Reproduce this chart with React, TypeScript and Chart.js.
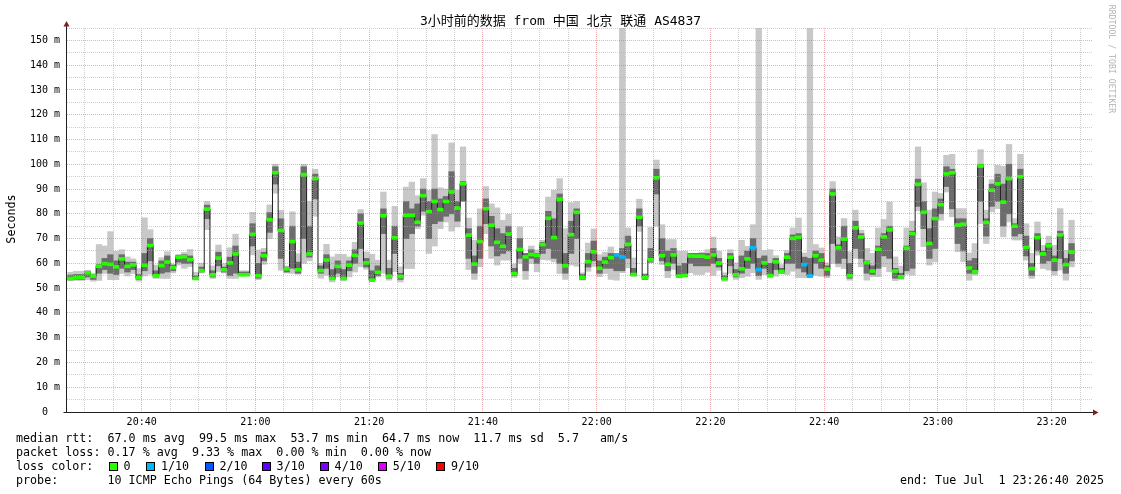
import React, { useEffect, useRef } from 'react';
import { Chart, registerables } from 'chart.js';

Chart.register(...registerables);

// ---------------- data ----------------
// one sample per minute, first sample covers 20:27 - 20:28
const FIRST_BAR_MINUTE = 27; // minutes after 20:00
const AXIS_MIN = 26.87; // 20:26:52
const AXIS_MAX = 207.27; // 23:27:16

const median = [
  53.9, 54.2, 54.3, 56.2, 54.8, 58.8, 59.9, 59.6, 58.6, 61.8,
  58.8, 59.4, 54.2, 59.2, 67.2, 55.0, 59.1, 60.5, 58.3, 62.5,
  62.7, 61.5, 53.9, 57.1, 81.9, 55.4, 62.1, 57.4, 60.2, 63.8,
  55.4, 55.4, 71.7, 55.0, 63.1, 77.6, 96.6, 73.3, 57.8, 68.8,
  57.4, 95.8, 63.8, 94.2, 57.1, 61.3, 53.9, 58.8, 53.9, 59.3,
  63.2, 76.3, 60.2, 53.2, 56.4, 79.2, 54.8, 70.3, 54.7, 79.4,
  79.4, 76.6, 87.3, 80.9, 85.0, 81.7, 85.0, 88.8, 82.3, 92.1,
  71.4, 59.7, 68.8, 82.1, 75.4, 68.5, 66.9, 71.8, 55.9, 65.6,
  62.6, 63.6, 63.2, 67.6, 78.2, 70.4, 85.9, 59.0, 71.6, 80.6,
  54.2, 60.7, 64.6, 58.0, 60.5, 62.3, 63.4, 62.6, 67.7, 55.5,
  78.6, 54.2, 61.4, 94.5, 63.1, 59.6, 63.4, 54.8, 55.1, 63.0,
  62.9, 62.9, 62.5, 63.4, 60.1, 53.8, 62.5, 55.4, 57.8, 61.8,
  66.3, 57.5, 60.2, 55.1, 60.6, 56.7, 62.5, 70.1, 70.5, 59.5,
  54.9, 63.1, 61.3, 57.7, 88.0, 66.3, 69.8, 55.0, 74.3, 70.7,
  60.3, 56.9, 65.7, 70.7, 73.5, 56.9, 54.6, 66.1, 72.0, 91.9,
  80.6, 68.0, 78.1, 83.7, 96.1, 96.6, 75.5, 75.8, 58.1, 56.6,
  99.3, 76.5, 89.5, 92.1, 84.7, 94.2, 75.0, 95.0, 66.4, 57.9,
  70.4, 63.8, 67.1, 61.3, 71.5, 59.5, 64.5,
];

// outer smoke (fastest / slowest ping)
const smokeLo = [
  53.1, 53.1, 53.1, 53.4, 52.8, 53.1, 55.9, 53.4, 53.4, 55.9,
  54.9, 55.9, 52.8, 54.9, 55.6, 53.9, 53.9, 53.9, 56.1, 59.3,
  58.0, 58.7, 53.4, 56.1, 73.6, 53.9, 56.7, 56.1, 53.9, 53.9,
  55.3, 55.3, 63.4, 53.4, 59.6, 70.0, 88.3, 57.2, 56.1, 55.9,
  55.6, 60.0, 61.0, 79.0, 54.0, 55.2, 52.5, 54.5, 52.9, 54.5,
  56.5, 58.6, 57.6, 52.9, 54.5, 56.0, 53.2, 56.6, 52.5, 57.9,
  57.9, 74.0, 79.4, 64.0, 67.0, 74.0, 76.7, 73.0, 74.7, 85.5,
  57.5, 53.5, 58.6, 72.0, 62.0, 59.3, 61.3, 61.3, 54.3, 60.0,
  53.5, 60.0, 56.6, 61.5, 61.3, 60.6, 55.9, 53.5, 59.3, 58.8,
  53.2, 56.8, 58.8, 54.6, 55.9, 53.5, 53.2, 56.2, 58.2, 54.8,
  72.9, 53.5, 60.2, 75.0, 59.5, 54.2, 57.5, 54.2, 54.8, 56.2,
  55.5, 55.5, 56.4, 55.1, 57.2, 52.8, 55.9, 53.5, 54.2, 54.8,
  56.2, 53.5, 55.5, 54.2, 54.8, 56.2, 55.5, 56.8, 54.2, 54.2,
  54.2, 55.1, 54.8, 54.2, 60.0, 58.6, 57.9, 53.2, 62.0, 58.6,
  53.2, 54.6, 54.6, 58.6, 56.6, 53.0, 53.5, 55.6, 55.2, 81.2,
  66.7, 59.3, 60.6, 77.4, 88.8, 78.8, 64.7, 60.6, 53.2, 55.2,
  76.0, 68.0, 80.8, 82.1, 70.7, 76.7, 69.4, 69.4, 61.3, 53.9,
  63.3, 57.9, 57.3, 55.2, 57.3, 53.2, 58.6,
];
const smokeHi = [
  56.4, 56.8, 56.8, 57.2, 55.9, 67.6, 67.0, 72.8, 64.9, 65.5,
  62.6, 61.8, 57.9, 78.4, 73.6, 59.3, 62.3, 64.7, 59.7, 63.6,
  64.4, 65.6, 56.4, 60.1, 85.0, 59.0, 67.4, 59.9, 66.3, 71.8,
  57.0, 57.0, 80.6, 65.4, 66.1, 83.6, 100.0, 81.4, 58.9, 80.8,
  63.9, 100.0, 85.0, 98.0, 60.0, 67.7, 62.6, 63.7, 63.6, 62.6,
  68.5, 81.7, 64.6, 63.7, 61.3, 88.8, 61.3, 83.0, 58.6, 90.8,
  92.8, 87.3, 94.2, 89.5, 112.0, 90.5, 90.0, 108.6, 89.5, 107.0,
  78.3, 69.3, 82.0, 91.0, 84.0, 82.4, 77.4, 79.8, 59.7, 74.7,
  64.0, 67.0, 65.4, 69.3, 86.8, 89.5, 94.2, 74.0, 84.5, 85.0,
  56.2, 68.2, 73.9, 63.5, 64.5, 66.6, 64.0, 156.0, 74.3, 62.2,
  85.9, 55.9, 74.5, 101.7, 75.6, 69.6, 69.6, 64.9, 64.9, 64.0,
  64.0, 64.5, 65.5, 70.6, 64.9, 56.2, 65.5, 60.2, 69.3, 66.9,
  75.6, 156.0, 65.2, 65.5, 63.1, 59.5, 65.2, 74.3, 78.3, 64.2,
  156.0, 67.6, 66.2, 60.2, 93.0, 70.7, 78.1, 64.7, 81.5, 73.4,
  66.0, 64.0, 74.3, 77.7, 84.8, 62.6, 58.9, 74.3, 77.0, 107.0,
  92.5, 81.5, 88.8, 88.2, 103.6, 104.0, 82.1, 82.1, 64.2, 68.0,
  105.9, 81.5, 93.8, 99.6, 99.2, 108.0, 78.1, 104.0, 76.0, 64.0,
  76.7, 67.3, 71.0, 67.3, 82.1, 65.3, 77.4,
];
// dense core of the smoke around the median
const coreLo = [
  53.3, 53.5, 53.5, 54.5, 53.5, 56.0, 57.5, 56.0, 55.5, 58.0,
  56.5, 57.5, 53.5, 57.0, 61.0, 54.5, 56.0, 56.5, 57.0, 60.5,
  60.0, 60.0, 53.5, 56.5, 78.0, 54.5, 59.0, 56.5, 55.0, 56.0,
  55.3, 55.3, 67.0, 54.0, 61.0, 72.5, 92.0, 62.0, 56.5, 58.0,
  56.0, 70.0, 62.5, 86.0, 56.0, 58.0, 53.5, 56.0, 53.5, 57.0,
  60.0, 66.0, 58.5, 53.5, 55.0, 72.0, 54.0, 64.0, 53.5, 70.0,
  72.0, 75.0, 81.0, 70.0, 76.0, 77.0, 79.0, 80.0, 77.0, 85.0,
  62.0, 56.0, 62.0, 76.0, 67.0, 63.0, 64.0, 65.0, 55.0, 62.0,
  57.0, 62.0, 60.0, 64.0, 66.0, 62.0, 60.0, 56.0, 64.0, 70.0,
  53.5, 58.5, 61.0, 56.0, 58.0, 58.0, 57.0, 57.0, 62.0, 55.0,
  75.0, 53.5, 60.5, 88.0, 61.0, 57.0, 60.0, 55.5, 55.5, 60.0,
  59.0, 59.0, 59.0, 60.0, 58.5, 53.5, 59.0, 54.5, 56.0, 58.0,
  60.0, 55.0, 58.0, 55.0, 57.5, 56.0, 60.0, 60.0, 58.0, 56.5,
  55.0, 60.0, 58.0, 55.0, 68.0, 60.0, 62.0, 54.0, 66.0, 62.0,
  56.0, 55.5, 58.0, 63.0, 62.0, 54.0, 54.0, 57.0, 58.0, 83.0,
  74.0, 62.0, 66.0, 80.0, 91.0, 82.0, 68.0, 65.0, 56.0, 56.0,
  85.0, 71.0, 83.0, 85.0, 75.0, 80.0, 71.0, 72.0, 63.0, 55.0,
  65.0, 60.0, 61.0, 57.0, 62.0, 56.0, 61.0,
];
const coreHi = [
  55.3, 55.5, 55.5, 56.8, 55.3, 59.5, 62.0, 63.5, 61.0, 63.5,
  60.5, 60.5, 55.5, 64.0, 70.0, 57.0, 61.0, 63.0, 59.3, 63.2,
  63.5, 63.0, 55.0, 58.5, 83.5, 57.0, 64.5, 58.5, 62.5, 67.0,
  56.5, 56.5, 76.0, 60.0, 64.5, 80.5, 99.0, 78.0, 58.5, 75.0,
  60.5, 99.0, 75.0, 96.0, 59.0, 63.5, 57.5, 61.0, 57.5, 61.0,
  65.5, 80.0, 62.0, 57.0, 59.0, 82.0, 58.0, 75.0, 56.0, 85.0,
  82.0, 84.0, 90.0, 85.0, 90.0, 86.0, 87.0, 97.0, 85.0, 93.0,
  74.0, 63.0, 75.0, 86.0, 79.0, 74.0, 72.0, 75.0, 58.0, 70.0,
  64.0, 65.5, 64.0, 68.5, 81.0, 78.0, 88.0, 64.0, 77.0, 82.0,
  55.5, 64.0, 69.0, 61.0, 62.5, 64.0, 64.0, 66.0, 71.0, 58.0,
  82.0, 55.5, 66.0, 98.0, 70.0, 65.0, 66.0, 59.0, 60.0, 64.0,
  64.0, 64.0, 64.0, 66.0, 62.0, 55.0, 64.0, 57.5, 63.0, 65.0,
  70.0, 62.0, 63.0, 60.0, 62.0, 58.0, 64.0, 71.5, 72.0, 62.5,
  62.0, 65.0, 64.0, 59.0, 90.0, 67.5, 75.0, 60.0, 77.0, 72.0,
  61.0, 59.0, 67.0, 72.0, 75.0, 58.0, 56.0, 67.0, 73.0, 94.0,
  85.0, 74.0, 82.0, 86.0, 99.0, 98.0, 78.0, 78.0, 61.0, 62.0,
  100.0, 78.0, 92.0, 96.0, 92.0, 100.0, 76.0, 98.0, 71.0, 60.0,
  72.0, 65.0, 68.0, 63.0, 73.0, 62.0, 68.0,
];

// [sample index, lost pings out of 10]
const lossEvents: [number, number][] = [
  [96, 1], [97, 1], [120, 1], [121, 1], [129, 1], [130, 1],
];

const lossLegendLabels = ['0', '1/10', '2/10', '3/10', '4/10', '5/10', '9/10'];
const lossLegendLimits = [0, 1, 2, 3, 4, 5, 9];
const lossLegendColors = ['#26ff00', '#00b8ff', '#0059ff', '#5e00ff', '#7e00ff', '#dd00ff', '#ff0000'];

const yTickValues = [0, 10, 20, 30, 40, 50, 60, 70, 80, 90, 100, 110, 120, 130, 140, 150];
const yTickLabels = ['0  ', '10 m', '20 m', '30 m', '40 m', '50 m', '60 m', '70 m', '80 m', '90 m',
  '100 m', '110 m', '120 m', '130 m', '140 m', '150 m'];
const xMajorMinutes = [40, 60, 80, 100, 120, 140, 160, 180, 200];
const xTickLabels = ['20:40', '21:00', '21:20', '21:40', '22:00', '22:20', '22:40', '23:00', '23:20'];

const titleText = '3小时前的数据 from 中国 北京 联通 AS4837';
const statLines = [
  'median rtt:  67.0 ms avg  99.5 ms max  53.7 ms min  64.7 ms now  11.7 ms sd  5.7   am/s',
  'packet loss: 0.17 % avg  9.33 % max  0.00 % min  0.00 % now',
];
const probeLine = 'probe:       10 ICMP Echo Pings (64 Bytes) every 60s';
const endLine = 'end: Tue Jul  1 23:26:40 2025';

// ---------------- styles ----------------
const MONO = '"DejaVu Sans Mono", "Noto Sans CJK SC", monospace';
const MINOR = 'rgba(175,175,175,0.6)';
const MAJOR = 'rgba(225,95,95,0.5)';
const AXIS_COLOR = '#1f1f1f';
const ARROW_COLOR = '#801f1f';

const rrdAxesPlugin = {
  id: 'rrdAxes',
  afterDraw(chart: any) {
    const { ctx, chartArea } = chart;
    const x0 = Math.round(chartArea.left) - 0.5;
    const y0 = Math.round(chartArea.bottom) + 0.5;
    const top = chartArea.top;
    const right = chartArea.right;
    ctx.save();
    ctx.lineWidth = 1;
    ctx.strokeStyle = AXIS_COLOR;
    ctx.beginPath();
    ctx.moveTo(x0, y0);
    ctx.lineTo(x0, top - 2);
    ctx.moveTo(x0 - 3, y0);
    ctx.lineTo(right + 1, y0);
    ctx.stroke();
    ctx.fillStyle = ARROW_COLOR;
    ctx.beginPath();
    ctx.moveTo(x0, top - 7);
    ctx.lineTo(x0 - 3, top - 1.5);
    ctx.lineTo(x0 + 3, top - 1.5);
    ctx.closePath();
    ctx.fill();
    ctx.beginPath();
    ctx.moveTo(right + 5.5, y0);
    ctx.lineTo(right, y0 - 3);
    ctx.lineTo(right, y0 + 3);
    ctx.closePath();
    ctx.fill();
    ctx.restore();
  },
};

export default function App() {
  const canvasRef = useRef<HTMLCanvasElement | null>(null);

  useEffect(() => {
    document.body.style.margin = '0';
    const canvas = canvasRef.current;
    if (!canvas) return;

    const xs = median.map((_, i) => FIRST_BAR_MINUTE + i + 0.5);
    const lossByBar = median.map(() => 0);
    lossEvents.forEach(([i, l]) => { lossByBar[i] = l; });
    const lossColor = (l: number) => {
      let c = lossLegendColors[0];
      lossLegendLimits.forEach((lim, k) => { if (l >= lim) c = lossLegendColors[k]; });
      return c;
    };

    const xGrid: number[] = [];
    for (let m = Math.ceil(AXIS_MIN / 5) * 5; m <= AXIS_MAX; m += 5) xGrid.push(m);
    const yGrid: number[] = [];
    for (let v = 0; v <= 155; v += 5) yGrid.push(v);

    const barCommon = {
      type: 'bar' as const,
      barPercentage: 1,
      categoryPercentage: 1,
      grouped: false,
      borderWidth: 0,
    };

    const chart = new Chart(canvas, {
      type: 'bar',
      data: {
        datasets: [
          {
            ...barCommon,
            label: 'smoke',
            data: xs.map((x, i) => ({ x, y: [smokeLo[i], smokeHi[i]] })) as any,
            backgroundColor: '#c8c8c8',
            order: 5,
          },
          {
            ...barCommon,
            label: 'core',
            data: xs.map((x, i) => ({ x, y: [coreLo[i], coreHi[i]] })) as any,
            backgroundColor: '#6c6c6c',
            order: 4,
          },
          {
            type: 'line' as const,
            label: 'median',
            data: xs.map((x, i) => ({ x, y: median[i] })),
            stepped: 'middle',
            borderColor: '#202020',
            borderWidth: 1,
            pointRadius: 0,
            fill: false,
            order: 2,
          } as any,
          {
            ...barCommon,
            label: 'loss',
            data: xs.map((x, i) => ({ x, y: [median[i] - 0.6, median[i] + 0.6] })) as any,
            backgroundColor: lossByBar.map(lossColor),
            order: 1,
          },
        ],
      },
      options: {
        responsive: false,
        maintainAspectRatio: false,
        animation: false,
        devicePixelRatio: 1,
        events: [],
        layout: { padding: { left: 0, right: 28, top: 28, bottom: 0 } },
        plugins: {
          legend: { display: false },
          tooltip: { enabled: false },
          title: { display: false },
        },
        scales: {
          x: {
            type: 'linear',
            min: AXIS_MIN,
            max: AXIS_MAX,
            offset: false,
            afterBuildTicks: (s: any) => { s.ticks = xGrid.map((v) => ({ value: v })); },
            afterFit: (s: any) => { s.height = 82; },
            grid: {
              offset: false,
              drawTicks: false,
              lineWidth: 1,
              z: 1,
              color: (c: any) => (c.tick && xMajorMinutes.includes(c.tick.value) ? MAJOR : MINOR),
            },
            border: { display: false, dash: [1, 1] },
            ticks: {
              autoSkip: false,
              maxRotation: 0,
              minRotation: 0,
              padding: 4,
              color: '#000',
              font: { family: MONO, size: 10 },
              callback: (v: any) => {
                const k = xMajorMinutes.indexOf(Number(v));
                return k >= 0 ? xTickLabels[k] : '';
              },
            },
          },
          y: {
            type: 'linear',
            min: 0,
            max: 155,
            afterBuildTicks: (s: any) => { s.ticks = yGrid.map((v) => ({ value: v })); },
            afterFit: (s: any) => { s.width = 67; },
            grid: {
              drawTicks: false,
              lineWidth: 1,
              z: 1,
              color: (c: any) => (c.tick && c.tick.value % 10 === 0 ? MAJOR : MINOR),
            },
            border: { display: false, dash: [1, 1] },
            ticks: {
              autoSkip: false,
              padding: 7,
              color: '#000',
              font: { family: MONO, size: 10 },
              callback: (v: any) => {
                const k = yTickValues.indexOf(Number(v));
                return k >= 0 ? yTickLabels[k] : '';
              },
            },
          },
        },
      } as any,
      plugins: [rrdAxesPlugin],
    });

    return () => chart.destroy();
  }, []);

  const text: React.CSSProperties = {
    position: 'absolute',
    fontFamily: MONO,
    fontSize: 11.7,
    lineHeight: '14px',
    whiteSpace: 'pre',
    color: '#000',
  };
  const squareLefts = [108.5, 146, 204.5, 261.6, 319.6, 377.7, 436];

  return (
    <div style={{ position: 'relative', width: 1121, height: 494, overflow: 'hidden', background: '#fff' }}>
      <canvas
        ref={canvasRef}
        width={1121}
        height={494}
        style={{ position: 'absolute', left: 0, top: 0, width: 1121, height: 494 }}
      />
      <div style={{ ...text, left: 0, top: 13, width: 1121, textAlign: 'center', fontSize: 13, lineHeight: '16px' }}>
        {titleText}
      </div>
      <div
        style={{
          ...text, left: 11 - 40, top: 219 - 7, width: 80, textAlign: 'center',
          transform: 'rotate(-90deg)',
        }}
      >
        Seconds
      </div>
      <div
        style={{
          ...text, left: 1111.5 - 60, top: 59 - 5, width: 120, textAlign: 'center',
          fontSize: 8.2, lineHeight: '10px', color: '#b4b4b4', transform: 'rotate(90deg)',
        }}
      >
        RRDTOOL / TOBI OETIKER
      </div>
      <div style={{ ...text, left: 16, top: 431 }}>{statLines[0]}</div>
      <div style={{ ...text, left: 16, top: 445 }}>{statLines[1]}</div>
      <div style={{ ...text, left: 16, top: 459 }}>loss color:</div>
      {lossLegendLabels.map((lab, k) => (
        <React.Fragment key={lab}>
          <div
            style={{
              position: 'absolute', left: squareLefts[k], top: 462, width: 7, height: 7,
              background: lossLegendColors[k], border: '1px solid #000',
            }}
          />
          <div style={{ ...text, left: squareLefts[k] + 15, top: 459 }}>{lab}</div>
        </React.Fragment>
      ))}
      <div style={{ ...text, left: 16, top: 473 }}>{probeLine}</div>
      <div style={{ ...text, right: 17, top: 473 }}>{endLine}</div>
    </div>
  );
}
